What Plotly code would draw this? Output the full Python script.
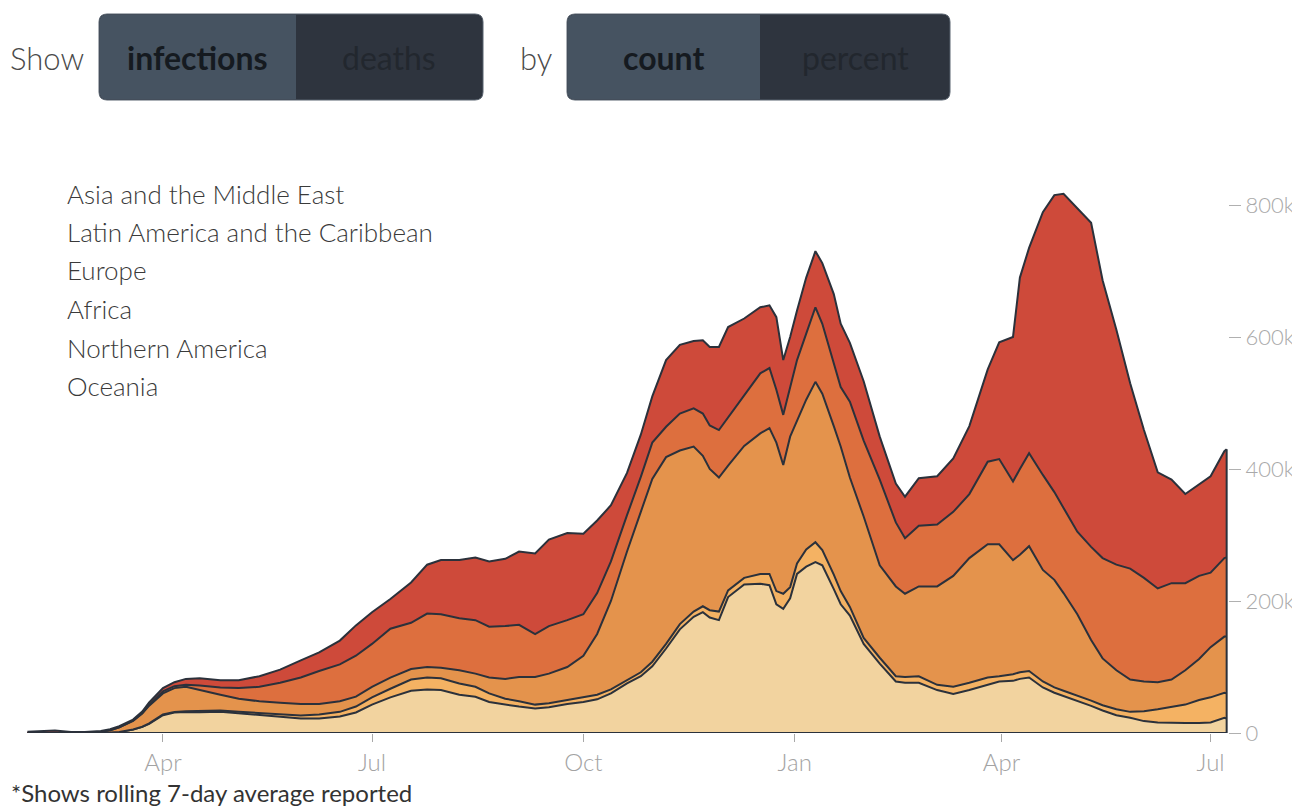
import plotly.graph_objects as go

# ---------------- data (thousands of new infections, 7-day average) ----------------
dates = [
    "2020-02-02", "2020-02-07", "2020-02-14", "2020-02-21", "2020-02-27",
    "2020-03-05", "2020-03-09", "2020-03-13", "2020-03-19", "2020-03-23",
    "2020-03-26", "2020-04-01", "2020-04-06", "2020-04-11", "2020-04-17",
    "2020-04-26", "2020-05-04", "2020-05-13", "2020-05-22", "2020-05-31",
    "2020-06-08", "2020-06-17", "2020-06-24", "2020-07-01", "2020-07-09",
    "2020-07-18", "2020-07-25", "2020-07-31", "2020-08-08", "2020-08-15",
    "2020-08-21", "2020-08-28", "2020-09-03", "2020-09-10", "2020-09-16",
    "2020-09-24", "2020-10-01", "2020-10-07", "2020-10-13", "2020-10-20",
    "2020-10-26", "2020-10-31", "2020-11-06", "2020-11-12", "2020-11-18",
    "2020-11-22", "2020-11-25", "2020-11-29", "2020-12-03", "2020-12-10",
    "2020-12-17", "2020-12-21", "2020-12-24", "2020-12-27", "2020-12-30",
    "2021-01-02", "2021-01-06", "2021-01-10", "2021-01-13", "2021-01-18",
    "2021-01-21", "2021-01-25", "2021-01-31", "2021-02-07", "2021-02-14",
    "2021-02-18", "2021-02-24", "2021-03-04", "2021-03-11", "2021-03-18",
    "2021-03-26", "2021-03-31", "2021-04-06", "2021-04-09", "2021-04-13",
    "2021-04-19", "2021-04-24", "2021-04-28", "2021-05-04", "2021-05-10",
    "2021-05-15", "2021-05-21", "2021-05-27", "2021-06-02", "2021-06-08",
    "2021-06-14", "2021-06-20", "2021-06-26", "2021-07-01", "2021-07-07",
    "2021-07-08",
]

oceania = [
    0, 0, 0, 0, 0, 0.01, 0.02, 0.05, 0.15, 0.3,
    0.35, 0.4, 0.3, 0.2, 0.1, 0.05, 0.03, 0.02, 0.02, 0.02,
    0.02, 0.03, 0.05, 0.1, 0.3, 0.4, 0.5, 0.5, 0.5, 0.4,
    0.3, 0.2, 0.1, 0.1, 0.1, 0.05, 0.02, 0.02, 0.02, 0.02,
    0.02, 0.02, 0.02, 0.02, 0.02, 0.02, 0.02, 0.02, 0.02, 0.02,
    0.02, 0.02, 0.02, 0.03, 0.03, 0.03, 0.03, 0.03, 0.03, 0.03,
    0.03, 0.03, 0.03, 0.03, 0.03, 0.03, 0.03, 0.03, 0.03, 0.03,
    0.03, 0.03, 0.03, 0.03, 0.03, 0.03, 0.03, 0.03, 0.03, 0.03,
    0.03, 0.03, 0.03, 0.03, 0.03, 0.03, 0.04, 0.04, 0.05, 0.05,
    0.05,
]

north_america = [
    0, 0, 0.01, 0.01, 0.05, 0.2, 0.6, 1.5, 5, 9,
    13.6, 26.6, 30.7, 31.8, 31.4, 32, 29.5, 27, 24, 22,
    22, 25, 31, 42.9, 53.7, 63.6, 65.5, 64.5, 57.5, 54.6,
    46.7, 42.8, 39.9, 36.9, 38.9, 43.9, 47, 51, 60, 75,
    86, 101, 128, 157, 176, 183, 175, 171, 206, 225,
    226, 224, 195, 188, 204, 241, 252, 259, 254, 218,
    195, 178, 135, 105, 78, 76, 76, 65, 59, 65,
    73, 78, 79, 82, 84, 69, 61, 56, 49, 41,
    34, 27, 23, 18, 16, 15, 15, 15, 16, 23,
    22,
]

africa = [
    0, 0, 0, 0, 0.01, 0.01, 0.02, 0.05, 0.1, 0.2,
    0.5, 1, 1, 1, 1.5, 2, 2.5, 3, 3.5, 4.5,
    6, 7, 9, 11, 13, 17, 18, 18, 17, 15,
    13, 9, 8, 6, 6, 6, 7, 7, 6, 5,
    6, 7, 7, 8, 8, 9, 11, 13, 10, 10,
    15, 17, 20, 23, 17, 16, 26, 30, 23, 22,
    20, 13, 9, 9, 8, 9, 10, 8, 11, 11,
    11, 8, 10, 10, 10, 9, 8, 8, 8, 8,
    8, 9, 9, 15, 20, 24, 28, 35, 38, 38,
    38,
]

europe = [
    0, 0.05, 0.1, 0.1, 0.5, 1.5, 3.5, 7, 13, 20,
    27, 32, 36, 37, 32, 24, 20, 18, 18.5, 17.5,
    16, 16, 15, 16, 17, 16, 16, 16, 20, 20,
    24, 30, 37, 42, 45, 50, 63, 92, 134, 195,
    243, 277, 283, 263, 250, 228, 214, 203, 189, 200,
    213, 221, 225, 195, 228, 215, 227, 243, 237, 225,
    219, 196, 184, 140, 136, 126, 136, 149, 168, 189,
    202, 200, 173, 178, 189, 169, 163, 148, 123, 92,
    71, 59, 49, 45, 41, 42, 52, 62, 76, 85,
    86,
]

latin_america = [
    0, 0, 0, 0, 0.01, 0.03, 0.05, 0.1, 0.3, 0.6,
    1.3, 3, 3, 3, 7, 11, 16, 22, 30, 40,
    50, 56, 62, 65, 74, 70, 81, 81, 79, 81,
    77, 80, 79, 65, 72, 71, 63, 62, 60, 55,
    53, 55, 46, 56, 58, 64, 66, 72, 73, 75,
    91, 91, 80, 76, 75, 93, 100, 113, 106, 95,
    90, 115, 115, 130, 97, 84, 92, 94, 97, 97,
    125, 129, 119, 130, 141, 144, 133, 129, 125, 141,
    152, 160, 168, 157, 142, 146, 132, 126, 113, 119,
    120,
]

asia = [
    2, 3, 3.5, 1.4, 1, 1.3, 1.4, 1.5, 1.8, 2.5,
    3.8, 5, 6, 9, 11, 11, 12, 16, 20, 26,
    28, 36, 46, 48, 45, 61, 74, 82, 88, 95,
    99, 102, 111, 122, 131, 132, 122, 110, 85, 64,
    64, 70, 101, 104, 102, 111, 119, 126, 137, 118,
    100, 95, 110, 83, 76, 75, 85, 85, 92, 105,
    96, 89, 90, 65, 59, 63, 72, 73, 81, 103,
    140, 177, 219, 290, 311, 398, 450, 476, 490, 491,
    421, 356, 281, 224, 176, 157, 135, 138, 146, 162,
    164,
]

regions = ["Oceania", "Northern America", "Africa", "Europe",
           "Latin America and the Caribbean", "Asia and the Middle East"]
series = [oceania, north_america, africa, europe, latin_america, asia]
colors = ["#f6e4c2", "#f2d39f", "#f4b263", "#e4934c", "#dd6f3e", "#ce4a3a"]
legend_order = ["Asia and the Middle East", "Latin America and the Caribbean",
                "Europe", "Africa", "Northern America", "Oceania"]

x_tick_vals = ["2020-04-01", "2020-07-01", "2020-10-01",
               "2021-01-01", "2021-04-01", "2021-07-01"]
x_tick_text = ["Apr", "Jul", "Oct", "Jan", "Apr", "Jul"]
y_tick_vals = [0, 200, 400, 600, 800]
y_tick_text = ["0", "200k", "400k", "600k", "800k"]

# ---------------- layout geometry ----------------
# page pixels are offset by the 8px default body margin of the html page
OFF = 8
W_FIG, H_FIG = 1300, 807
PLOT_LEFT, PLOT_RIGHT, PLOT_BOTTOM = 27 - OFF, 1228 - OFF, 733 - OFF
M_T = 150
M_L = PLOT_LEFT
M_R = W_FIG - PLOT_RIGHT
M_B = H_FIG - PLOT_BOTTOM
PLOT_W = W_FIG - M_L - M_R
PLOT_H = H_FIG - M_T - M_B
Y_MAX = PLOT_H / 0.66  # 0.66 px per thousand

LINE = "#2b313b"
FONT = "Source Sans Pro, Lato, Noto Sans, sans-serif"


def px_x(p):
    return (p - OFF - M_L) / PLOT_W


def px_y(p):
    return (H_FIG - M_B - (p - OFF)) / PLOT_H


def rounded_path(x0, y0, x1, y1, r, left=True, right=True):
    rx, ry = r / PLOT_W, r / PLOT_H
    X0, X1 = px_x(x0), px_x(x1)
    YT, YB = px_y(y0), px_y(y1)
    parts = []
    parts.append(f"M {X0 + rx},{YT}" if left else f"M {X0},{YT}")
    if right:
        parts.append(f"L {X1 - rx},{YT} Q {X1},{YT} {X1},{YT - ry} L {X1},{YB + ry} Q {X1},{YB} {X1 - rx},{YB}")
    else:
        parts.append(f"L {X1},{YT} L {X1},{YB}")
    if left:
        parts.append(f"L {X0 + rx},{YB} Q {X0},{YB} {X0},{YB + ry} L {X0},{YT - ry} Q {X0},{YT} {X0 + rx},{YT}")
    else:
        parts.append(f"L {X0},{YB}")
    parts.append("Z")
    return " ".join(parts)


fig = go.Figure()
for name, vals, col in zip(regions, series, colors):
    fig.add_trace(go.Scatter(
        x=dates, y=vals, name=name, mode="lines", stackgroup="one",
        line=dict(color=LINE, width=2, shape="linear"),
        fillcolor=col, hoverinfo="skip", showlegend=False,
    ))

total_last = sum(s[-1] for s in series)

shapes = [
    dict(type="line", xref="x", yref="y", x0=dates[-1], x1=dates[-1],
         y0=0, y1=total_last, line=dict(color=LINE, width=2)),
]

# toggle buttons
for (x0, xm, x1) in [(99, 296, 483), (567, 760, 950)]:
    shapes.append(dict(type="path", xref="paper", yref="paper",
                       path=rounded_path(x0, 14, x1, 100, 8),
                       fillcolor="#2e343e", line=dict(color="#59636f", width=1), layer="above"))
    shapes.append(dict(type="path", xref="paper", yref="paper",
                       path=rounded_path(x0 + 0.5, 14.5, xm, 99.5, 8, left=True, right=False),
                       fillcolor="#465361", line=dict(width=0), layer="above"))

annotations = []
for t, cx in [("Show", 47), ("by", 536)]:
    annotations.append(dict(text=t, xref="paper", yref="paper", x=px_x(cx), y=px_y(58),
                            xanchor="center", yanchor="middle", showarrow=False,
                            font=dict(family=FONT, size=31, color="#4a4a4a", weight=300)))
for t, cx, c, w in [("infections", 197, "#151a20", 700), ("deaths", 389, "#22272e", 400),
                    ("count", 663, "#151a20", 700), ("percent", 855, "#22272e", 400)]:
    annotations.append(dict(text=t, xref="paper", yref="paper", x=px_x(cx), y=px_y(58),
                            xanchor="center", yanchor="middle", showarrow=False,
                            font=dict(family=FONT, size=32, color=c, weight=w)))

legend_y = [194, 232, 270, 309, 348, 386]
for name, yy in zip(legend_order, legend_y):
    annotations.append(dict(text=name, xref="paper", yref="paper", x=px_x(65), y=px_y(yy),
                            xanchor="left", yanchor="middle", showarrow=False,
                            font=dict(family=FONT, size=26, color="#3a3a3a", weight=300)))

annotations.append(dict(text="*Shows rolling 7-day average reported", xref="paper", yref="paper",
                        x=px_x(9), y=px_y(792), xanchor="left", yanchor="middle",
                        showarrow=False,
                        font=dict(family=FONT, size=24, color="#333333", weight=400)))

fig.update_layout(
    width=W_FIG, height=H_FIG,
    margin=dict(l=M_L, r=M_R, t=M_T, b=M_B, autoexpand=False),
    paper_bgcolor="white", plot_bgcolor="white",
    showlegend=False,
    font=dict(family=FONT),
    shapes=shapes,
    annotations=annotations,
    xaxis=dict(
        type="date", range=["2020-02-01 20:00", "2021-07-08 14:00"],
        tickvals=x_tick_vals, ticktext=x_tick_text,
        ticks="outside", ticklen=8, tickwidth=1, tickcolor="#a8a8a8",
        showgrid=False, zeroline=False, showline=False,
        tickfont=dict(family=FONT, size=24, color="#a3a3a3", weight=300),
        ticklabeloverflow="allow", fixedrange=True,
    ),
    yaxis=dict(
        side="right", range=[0, Y_MAX],
        tickvals=y_tick_vals, ticktext=y_tick_text,
        ticks="outside", ticklen=12, tickwidth=1, tickcolor="#b0b0b0",
        showgrid=False, zeroline=False, showline=False,
        tickfont=dict(family=FONT, size=22, color="#a9a9a9", weight=300),
        ticklabeloverflow="allow", fixedrange=True,
    ),
)

fig.write_html("out.html")
